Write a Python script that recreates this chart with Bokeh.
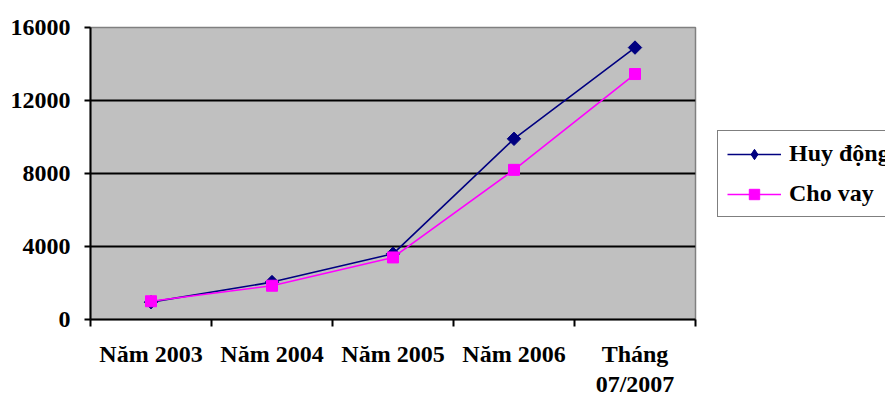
import math
from bokeh.plotting import figure
from bokeh.layouts import row
from bokeh.models import (Range1d, FixedTicker, Legend, LegendItem)
from bokeh.embed import file_html
from bokeh.resources import INLINE

# Period labels along the x axis
periods = ["Năm 2003", "Năm 2004", "Năm 2005", "Năm 2006", "Tháng\n07/2007"]
# Deposits mobilised and loans outstanding
huy_dong = [950, 2050, 3600, 9900, 14900]
cho_vay = [1000, 1850, 3400, 8200, 13450]
y_ticks = [0, 4000, 8000, 12000, 16000]
series_names = ["Huy động", "Cho vay"]

FONT = "Liberation Serif"
FS = "24px"
navy = "#000080"
magenta = "#FF00FF"

# each period sits in the middle of its own unit-wide slot
xs = [i + 0.5 for i in range(len(periods))]

p = figure(width=716, height=399, output_backend="svg", toolbar_location=None,
           x_range=Range1d(0, len(periods)), y_range=Range1d(0, 16000),
           min_border_left=90, min_border_right=21,
           min_border_top=27, min_border_bottom=79)

p.border_fill_color = "white"
p.background_fill_color = "#C0C0C0"
p.outline_line_color = "#808080"
p.outline_line_width = 1.5

# y axis
p.yaxis.ticker = FixedTicker(ticks=y_ticks)
p.yaxis.axis_line_color = "black"
p.yaxis.axis_line_width = 2
p.yaxis.major_tick_out = 6
p.yaxis.major_tick_in = 0
p.yaxis.major_tick_line_width = 2
p.yaxis.minor_tick_line_color = None
p.yaxis.major_label_standoff = 14
p.yaxis.major_label_text_font = FONT
p.yaxis.major_label_text_font_style = "bold"
p.yaxis.major_label_text_font_size = FS
p.yaxis.major_label_text_color = "black"

# x axis: labels centred in slots, tick marks on slot boundaries
p.xaxis.ticker = FixedTicker(ticks=xs, minor_ticks=list(range(len(periods) + 1)))
p.xaxis.major_label_overrides = {x: lab for x, lab in zip(xs, periods)}
p.xaxis.axis_line_color = "black"
p.xaxis.axis_line_width = 2
p.xaxis.major_tick_line_color = None
p.xaxis.major_tick_out = 0
p.xaxis.major_tick_in = 0
p.xaxis.minor_tick_out = 7
p.xaxis.minor_tick_in = 0
p.xaxis.minor_tick_line_color = "black"
p.xaxis.minor_tick_line_width = 2
p.xaxis.major_label_standoff = 14
p.xaxis.major_label_text_font = FONT
p.xaxis.major_label_text_font_style = "bold"
p.xaxis.major_label_text_font_size = FS
p.xaxis.major_label_text_color = "black"
p.xaxis.major_label_text_line_height = 1.167

p.xgrid.grid_line_color = None
p.ygrid.ticker = FixedTicker(ticks=[4000, 8000, 12000])
p.ygrid.grid_line_color = "black"
p.ygrid.grid_line_width = 2

p.line(xs, huy_dong, line_color=navy, line_width=1.6)
p.scatter(xs, huy_dong, marker="square", angle=math.pi / 4, size=9.5,
          fill_color=navy, line_color=navy)
p.line(xs, cho_vay, line_color=magenta, line_width=1.6)
p.scatter(xs, cho_vay, marker="square", size=11,
          fill_color=magenta, line_color=magenta)

# legend panel to the right of the chart; its key glyphs sit outside the visible range
lg = figure(width=169, height=399, output_backend="svg", toolbar_location=None,
            x_range=Range1d(0, 1), y_range=Range1d(0, 1),
            x_axis_type=None, y_axis_type=None,
            min_border_left=0, min_border_right=0,
            min_border_top=0, min_border_bottom=0)
lg.outline_line_color = None
lg.background_fill_color = "white"
lg.border_fill_color = "white"
lg.grid.visible = False

k1 = lg.line([-5, -4], [-5, -4], line_color=navy, line_width=1.6)
m1 = lg.scatter([-5], [-5], marker="diamond", size=15,
                fill_color=navy, line_color=navy)
k2 = lg.line([-5, -4], [-5, -4], line_color=magenta, line_width=1.6)
m2 = lg.scatter([-5], [-5], marker="square", size=11,
                fill_color=magenta, line_color=magenta)

legend = Legend(items=[LegendItem(label=series_names[0], renderers=[k1, m1]),
                       LegendItem(label=series_names[1], renderers=[k2, m2])],
                location=(1, 102), orientation="vertical",
                margin=0, padding=9, spacing=13,
                glyph_width=54, glyph_height=26, label_standoff=8,
                label_text_font=FONT, label_text_font_style="bold",
                label_text_font_size=FS, label_text_color="black",
                border_line_color="black", border_line_width=1.5,
                background_fill_color="white", background_fill_alpha=1.0)
lg.add_layout(legend)

layout = row(p, lg, spacing=0)
open("out.html", "w").write(file_html(layout, INLINE))
